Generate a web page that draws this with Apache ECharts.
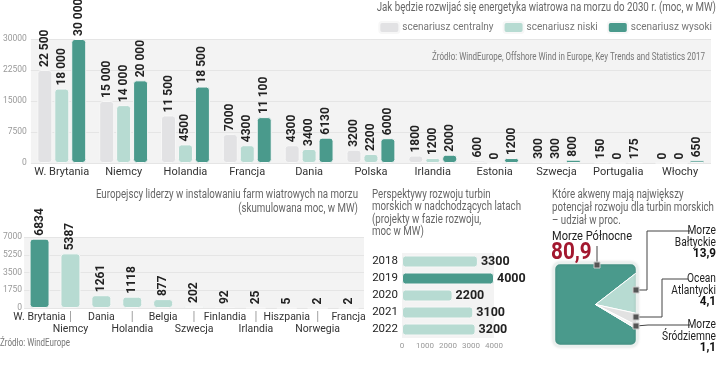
<!DOCTYPE html>
<html><head><meta charset="utf-8">
<script src="https://cdn.jsdelivr.net/npm/echarts@6/dist/echarts.min.js"></script>
<style>html,body{margin:0;padding:0;background:#fff}#c{width:720px;height:370px}</style>
</head><body><div id="c"></div>
<script>
// ---- data ----
const countries = ['W. Brytania','Niemcy','Holandia','Francja','Dania','Polska','Irlandia','Estonia','Szwecja','Portugalia','Włochy'];
const scenCentral = [22500,15000,11500,7000,4300,3200,1800,600,300,150,0];
const scenLow     = [18000,14000,4500,4300,3400,2200,1200,0,300,0,0];
const scenHigh    = [30000,20000,18500,11100,6130,6000,2000,1200,800,175,650];
const scenNames   = ['scenariusz centralny','scenariusz niski','scenariusz wysoki'];
const topTicks    = [0,7500,15000,22500,30000];

const leaders      = ['W. Brytania','Niemcy','Dania','Holandia','Belgia','Szwecja','Finlandia','Irlandia','Hiszpania','Norwegia','Francja'];
const leaderValues = [6834,5387,1261,1118,877,202,92,25,5,2,2];
const leaderTicks  = [0,1750,3500,5250,7000];

const years      = ['2018','2019','2020','2021','2022'];
const yearValues = [3300,4000,2200,3100,3200];
const yearTicks  = [0,1000,2000,3000,4000];

const seaNames  = ['Morze Północne','Morze Bałtyckie','Ocean Atlantycki','Morze Śródziemne'];
const seaShares = [80.9,13.9,4.1,1.1];

// ---- styles ----
const FONT = "Roboto, 'Liberation Sans', sans-serif";
const C_CENTRAL = '#e2e2e4', C_LOW = '#b7dbd2', C_HIGH = '#4a9a8c';
const fmtBig = v => v >= 10000 ? String(v).replace(/\B(?=(\d{3})+(?!\d))/g, ' ') : String(v);
const plain = v => String(v);

const chart = echarts.init(document.getElementById('c'), null, {renderer:'canvas'});

const valLabel = (size) => ({
  show:true, position:'top', rotate:90, align:'left', verticalAlign:'middle', distance:3,
  fontFamily:FONT, fontWeight:'bold', fontSize:size, color:'#222'
});
const barItem = (color) => ({color, borderColor:'#f7f7f7', borderWidth:1, borderRadius:3});

// pie in a square
const SQ = {cx:595.5, cy:304.5, h:41.5};
const PIE_START = 329;
const sqColors = [C_HIGH, C_LOW, '#e2e2e2', '#f3f3f3'];
const cum = []; seaShares.reduce((a,v,i)=>{cum[i]=a; return a+v;},0);
function rayPoint(deg){
  const r = deg*Math.PI/180, c = Math.cos(r), s = Math.sin(r);
  const t = SQ.h/Math.max(Math.abs(c),Math.abs(s));
  return [SQ.cx + t*c, SQ.cy - t*s];
}

const graphics = [];
const SX = 0.81;
function txt(x,y,text,opt,sx){
  graphics.push({type:'text', x, y, scaleX: sx==null?SX:sx, silent:true, z:20,
    style:Object.assign({text, fontFamily:FONT, fontSize:12, fill:'#666', textAlign:'left', textVerticalAlign:'middle'}, opt||{})});
}
// titles
txt(716,8,'Jak będzie rozwijać się energetyka wiatrowa na morzu do 2030 r. (moc, w MW)',{textAlign:'right'});
txt(705,57,'Źródło: WindEurope, Offshore Wind in Europe, Key Trends and Statistics 2017',{textAlign:'right',fontSize:10,fill:'#777'},0.8);
txt(358,195,'Europejscy liderzy w instalowaniu farm wiatrowych na morzu',{textAlign:'right'});
txt(358,209,'(skumulowana moc, w MW)',{textAlign:'right'});
txt(0,343,'Źródło: WindEurope',{fontSize:10,fill:'#777'},0.8);
['Perspektywy rozwoju turbin','morskich w nadchodzących latach','(projekty w fazie rozwoju,','moc w MW)'].forEach((l,k)=>txt(372,195+12.3*k,l));
['Które akweny mają największy','potencjał rozwoju dla turbin morskich','– udział w proc.'].forEach((l,k)=>txt(552,195+13*k,l));
txt(552,237,seaNames[0],{fill:'#222',fontSize:13},0.85);
txt(551,253,String(seaShares[0]).replace('.',','),{fill:'#a3182f',fontSize:23,fontWeight:'bold'},0.9);
[{i:1, y:231}, {i:2, y:279}, {i:3, y:325}].forEach(s=>{
  const parts = seaNames[s.i].split(' ');
  txt(716,s.y,parts[0],{textAlign:'right',fill:'#222'},0.85);
  txt(716,s.y+11.5,parts[1],{textAlign:'right',fill:'#222'},0.85);
  txt(716,s.y+23,String(seaShares[s.i]).replace('.',','),{textAlign:'right',fill:'#111',fontWeight:'bold',fontSize:13},0.9);
});
// square frame
graphics.push({type:'rect', z:15, silent:true, shape:{x:SQ.cx-SQ.h, y:SQ.cy-SQ.h, width:2*SQ.h, height:2*SQ.h, r:6},
  style:{fill:null, stroke:'#eaf0ee', lineWidth:2.5, shadowBlur:3, shadowColor:'rgba(0,0,0,0.15)'}});
// leader lines
const line = (pts)=>graphics.push({type:'polyline', z:16, silent:true, shape:{points:pts}, style:{stroke:'#444', lineWidth:1, fill:null}});
line([[597,246],[597,264]]);
line([[636,290],[647,290],[647,231],[690,231]]);
line([[636,317],[662,317],[662,279],[688,279]]);
line([[636,326],[648,325],[690,325]]);
const mark = (x,y)=>graphics.push({type:'rect', z:17, silent:true, shape:{x:x-3,y:y-3,width:6,height:6}, style:{fill:'#555', stroke:'#ccc', lineWidth:1}});
mark(597,265); mark(636,290); mark(636,317); mark(636,326);

const option = {
  animation:false,
  textStyle:{fontFamily:FONT},
  legend:{
    data:scenNames, right:8, top:21, padding:0, itemWidth:20, itemHeight:11, itemGap:9, icon:'roundRect',
    textStyle:{fontFamily:FONT, fontSize:10, color:'#777', padding:[0,0,0,-2]}, selectedMode:false
  },
  grid:[
    {left:26, right:9, top:39, height:124, show:true, backgroundColor:'#f3f3f3', borderWidth:0},
    {left:22, width:342, top:237, height:71, show:true, backgroundColor:'#f3f3f3', borderWidth:0},
    {left:402, width:92, top:253, height:85, show:true, backgroundColor:'#f3f3f3', borderWidth:0}
  ],
  xAxis:[
    {gridIndex:0, type:'category', data:countries, axisLine:{show:false}, axisTick:{show:false},
     axisLabel:{interval:0, margin:4, fontSize:11, color:'#333', fontFamily:FONT}},
    {gridIndex:1, type:'category', data:leaders, axisLine:{show:false}, axisTick:{show:false},
     axisLabel:{interval:0, margin:3, fontSize:10.5, color:'#333', fontFamily:FONT, hideOverlap:false, lineHeight:12,
       formatter:(v,i)=> i%2 ? '{s||}\n' + v : v,
       rich:{s:{color:'#999', fontSize:12, lineHeight:12}}}},
    {gridIndex:2, type:'value', min:yearTicks[0], max:yearTicks[yearTicks.length-1], interval:1000,
     axisLine:{show:false}, axisTick:{show:false}, splitLine:{show:false},
     axisLabel:{margin:4, fontSize:8, color:'#999', fontFamily:FONT, formatter:plain}}
  ],
  yAxis:[
    {gridIndex:0, type:'value', min:topTicks[0], max:topTicks[topTicks.length-1], interval:7500,
     axisLine:{show:false}, axisTick:{show:false}, splitLine:{lineStyle:{color:'#e5e5e5'}},
     axisLabel:{margin:4, fontSize:8.5, color:'#999', fontFamily:FONT, formatter:plain}},
    {gridIndex:1, type:'value', min:leaderTicks[0], max:leaderTicks[leaderTicks.length-1], interval:1750,
     axisLine:{show:false}, axisTick:{show:false}, splitLine:{lineStyle:{color:'#e5e5e5'}},
     axisLabel:{margin:2, fontSize:8.5, color:'#999', fontFamily:FONT, formatter:plain}},
    {gridIndex:2, type:'category', data:years, inverse:true, axisLine:{show:false}, axisTick:{show:false},
     axisLabel:{margin:4, fontSize:11.5, color:'#222', fontFamily:FONT}}
  ],
  series:[
    {name:scenNames[0], type:'bar', xAxisIndex:0, yAxisIndex:0, data:scenCentral, barWidth:15, barGap:'13%',
     itemStyle:barItem(C_CENTRAL), label:Object.assign(valLabel(12),{formatter:p=>fmtBig(p.value)})},
    {name:scenNames[1], type:'bar', xAxisIndex:0, yAxisIndex:0, data:scenLow, barWidth:15, barGap:'13%',
     itemStyle:barItem(C_LOW), label:Object.assign(valLabel(12),{formatter:p=>fmtBig(p.value)})},
    {name:scenNames[2], type:'bar', xAxisIndex:0, yAxisIndex:0, data:scenHigh, barWidth:15, barGap:'13%',
     itemStyle:barItem(C_HIGH), label:Object.assign(valLabel(12),{formatter:p=>fmtBig(p.value)})},
    {type:'bar', xAxisIndex:1, yAxisIndex:1, data:leaderValues, barWidth:20,
     itemStyle:Object.assign(barItem(C_LOW),{color:p=>p.dataIndex===0?C_HIGH:C_LOW}),
     label:valLabel(12)},
    {type:'bar', xAxisIndex:2, yAxisIndex:2, data:yearValues, barWidth:12,
     itemStyle:Object.assign(barItem(C_LOW),{color:p=>p.dataIndex===1?C_HIGH:C_LOW}),
     label:{show:true, position:'right', distance:3, fontFamily:FONT, fontWeight:'bold', fontSize:12.5, color:'#222'}},
    {type:'custom', coordinateSystem:'none', data:seaShares,
     renderItem:(params, api)=>{
       const i = params.dataIndex;
       const a0 = PIE_START - cum[i]*3.6, a1 = a0 - seaShares[i]*3.6;
       const pts = [[SQ.cx,SQ.cy], rayPoint(a0)];
       for (let k=4;k>=-1;k--){ const c = 45+90*k; if (c<a0 && c>a1) pts.push(rayPoint(c)); }
       pts.push(rayPoint(a1));
       return {type:'polygon', shape:{points:pts},
         clipPath:{type:'rect', shape:{x:SQ.cx-SQ.h, y:SQ.cy-SQ.h, width:2*SQ.h, height:2*SQ.h, r:6}},
         style:{fill:sqColors[i], stroke:'#ffffff', lineWidth:1}};
     }}
  ],
  graphic:graphics
};
chart.setOption(option);
</script></body></html>
